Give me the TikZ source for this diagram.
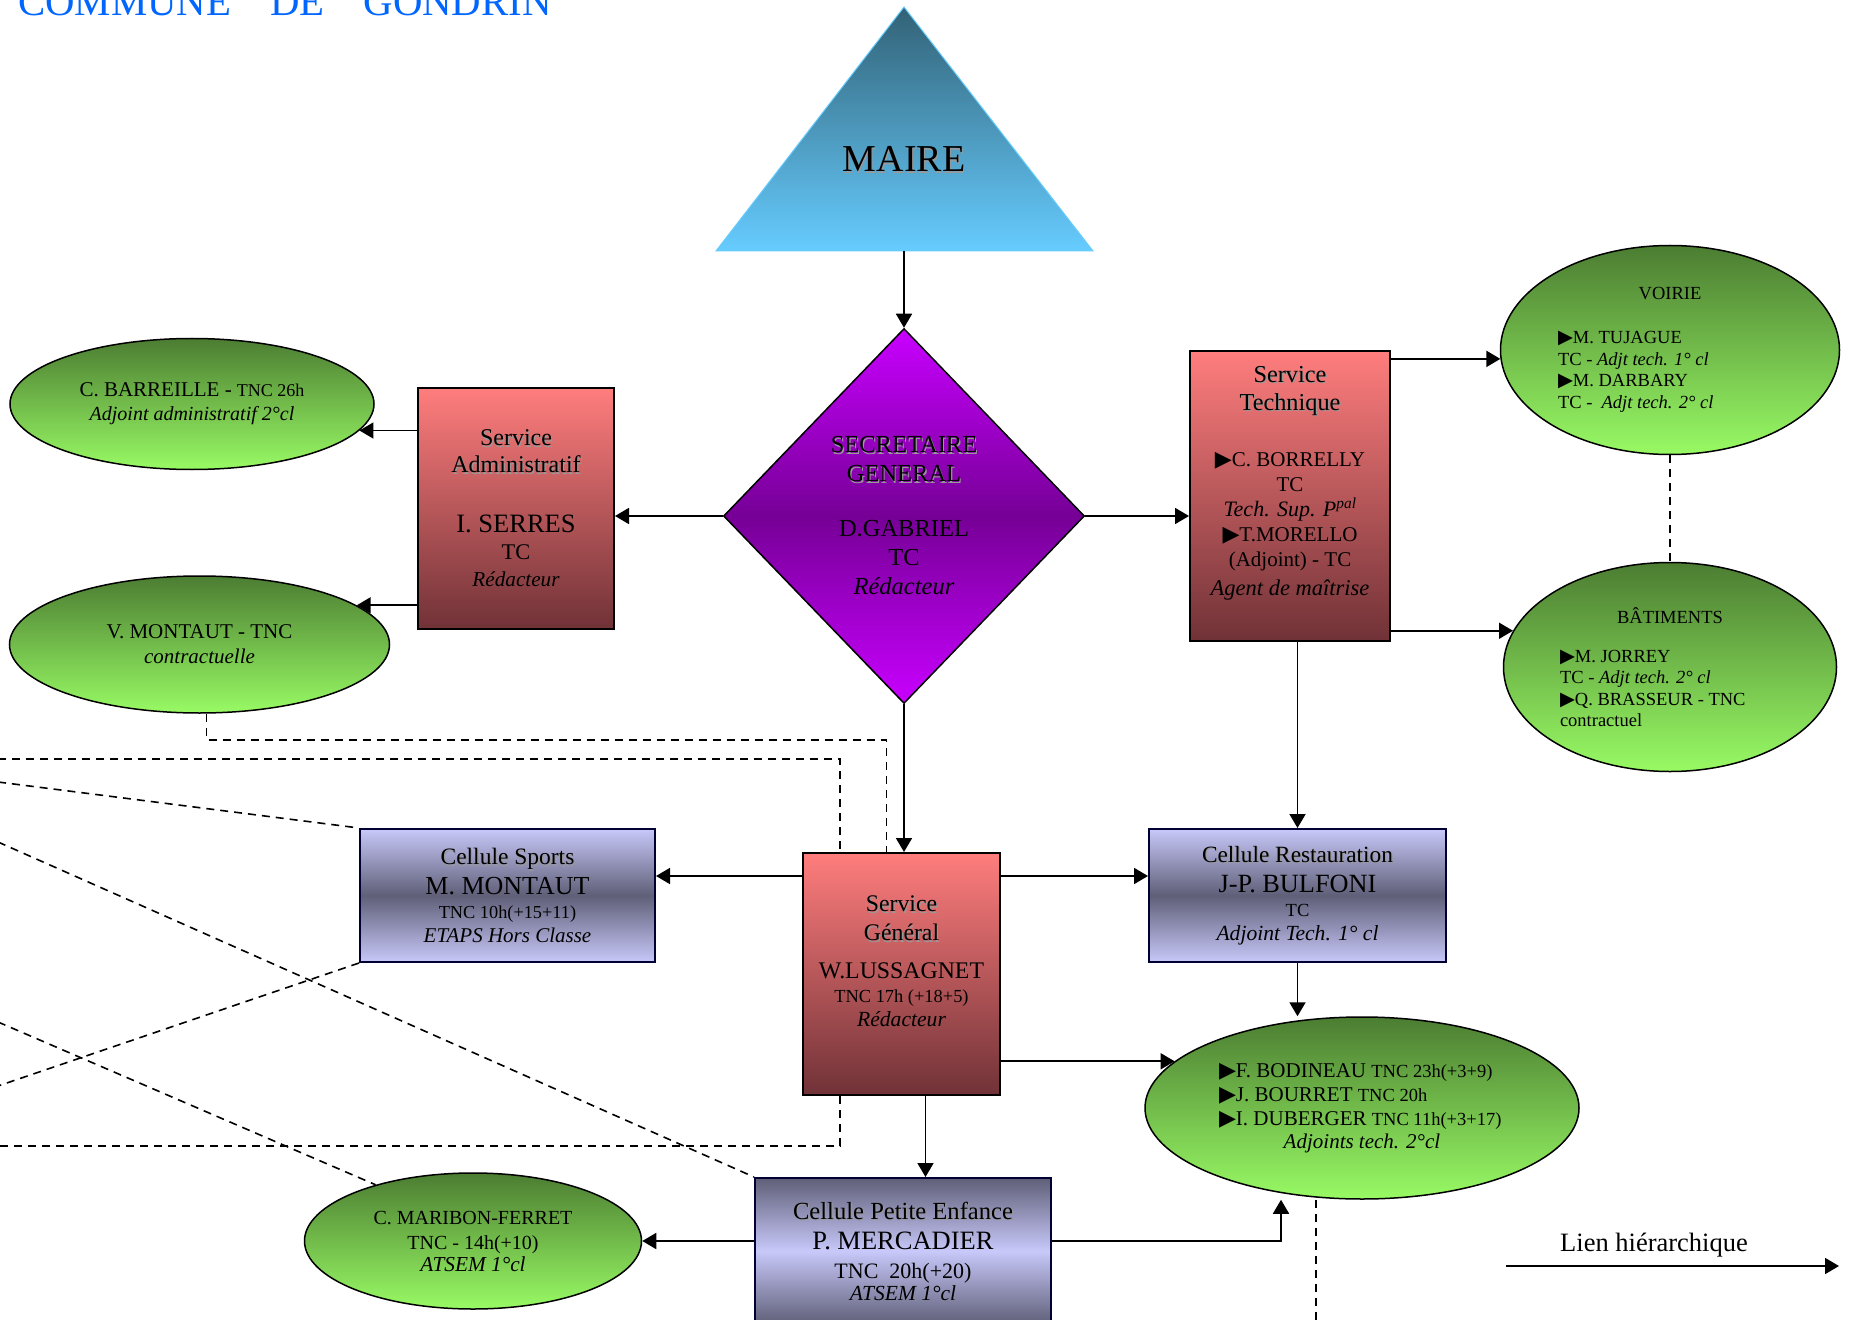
\documentclass[tikz,border=0pt]{standalone}
\usepackage{fontspec}
\usepackage{graphicx}
\setmainfont{Liberation Serif}
\newfontfamily\symfont{DejaVu Sans}
\usetikzlibrary{arrows.meta,shapes.geometric,positioning}

\definecolor{titleblue}{RGB}{0,102,255}
\definecolor{mairetop}{RGB}{50,98,118}
\definecolor{mairebot}{RGB}{102,204,255}
\definecolor{dialt}{RGB}{200,0,255}
\definecolor{diadk}{RGB}{118,0,150}
\definecolor{srvtop}{RGB}{255,125,125}
\definecolor{srvbot}{RGB}{112,50,55}
\definecolor{celllt}{RGB}{200,200,250}
\definecolor{celldk}{RGB}{95,95,120}
\definecolor{agttop}{RGB}{76,125,50}
\definecolor{agtbot}{RGB}{152,250,100}

\newcommand{\fsz}[1]{\fontsize{#1bp}{#1bp}\selectfont}
\newcommand{\tri}{{\symfont\scalebox{1.05}{▶}}}
\newcommand{\shd}[1]{\makebox[0pt][l]{\kern1.2bp\raisebox{-1.2bp}{\textcolor{black!40}{#1}}}#1}

\tikzstyle{org-srv}=[draw=black, line width=2bp, top color=srvtop, bottom color=srvbot, align=center, inner sep=0pt]
\tikzstyle{org-cel}=[draw=black!80!blue, line width=2bp, top color=celllt, bottom color=celllt, middle color=celldk, align=center, inner sep=0pt, minimum width=296bp, minimum height=133bp, font=\fontsize{18.5bp}{23.5bp}\selectfont]
\tikzstyle{org-agt}=[ellipse, draw=black, line width=1.5bp, top color=agttop, bottom color=agtbot, align=center, inner sep=0pt]
\tikzstyle{org-link}=[-{Triangle[length=14bp,width=16bp]}, line width=1.8bp]
\tikzstyle{org-dash}=[line width=1.6bp, dash pattern=on 8bp off 6bp]

\begin{document}
\begin{tikzpicture}[x=1bp,y=-1bp]
  \useasboundingbox (0,0) rectangle (1854,1320);
  \node[anchor=base west, inner sep=0pt, text=titleblue, font=\fsz{40.8}] (title) at (18,16) {COMMUNE\hspace{39bp}DE\hspace{39bp}GONDRIN};

  \shadedraw[top color=mairetop, bottom color=mairebot, draw=mairebot, line width=1bp] (904,7) -- (1093,251) -- (716,251) -- cycle;
  \node[anchor=base, font=\fsz{38}] (maire) at (904,172) {\shd{MAIRE}};
  \coordinate (mairebase) at (904,251);

  \node[diamond, draw=black, line width=1.5bp, top color=dialt, bottom color=dialt, middle color=diadk, minimum width=361bp, minimum height=375bp, inner sep=0pt, align=center, font=\fontsize{24.5bp}{29bp}\selectfont] (secgen) at (904,516)
    {\shd{SECRETAIRE}\\\shd{GENERAL}\\[26bp]D.GABRIEL\\TC\\\textit{Rédacteur}};

  \node[org-srv, minimum width=196bp, minimum height=241bp, font=\fontsize{24bp}{27bp}\selectfont] (sadm) at (516,508.5)
    {\shd{Service}\\\shd{Administratif}\\[33bp]{\fsz{26.5}I. SERRES}\\{\fsz{22.4}TC}\\{\itshape\fsz{21.2}Rédacteur}};
  \node[org-srv, minimum width=200bp, minimum height=290bp, font=\fontsize{21bp}{25bp}\selectfont] (stech) at (1290,496)
    {{\fsz{24.3}\shd{Service}}\\[3bp]{\fsz{24.3}\shd{Technique}}\\[31bp]\tri C. BORRELLY\\TC\\{\itshape\fsz{22}Tech. Sup. P\textsuperscript{pal}}\\\tri T.MORELLO\\(Adjoint) - TC\\[4bp]{\itshape\fsz{22.5}Agent de maîtrise}\\[6bp]\mbox{}};
  \node[org-srv, minimum width=197bp, minimum height=242bp, font=\fontsize{21bp}{24bp}\selectfont] (sgen) at (901.5,974)
    {{\fsz{23.8}\shd{Service}}\\[5bp]{\fsz{23.8}\shd{Général}}\\[14bp]{\fsz{23.8}W.LUSSAGNET}\\{\fsz{18.4}TNC 17h (+18+5)}\\{\itshape\fsz{21.6}Rédacteur}\\[1bp]\mbox{}};

  \node[org-cel, minimum width=295bp] (csport) at (507.5,895.5)
    {{\fsz{23.5}\shd{Cellule Sports}}\\[6.5bp]{\fsz{26}M. MONTAUT}\\{\fsz{18.3}TNC 10h(+15+11)}\\[0.5bp]{\itshape\fsz{21}ETAPS Hors Classe}};
  \node[org-cel, minimum width=297bp] (crest) [right of=csport, node distance=790bp]
    {{\fsz{23.3}\shd{Cellule Restauration}}\\[6.5bp]{\fsz{26.3}J-P. BULFONI}\\TC\\[0.5bp]{\itshape\fsz{21.6}Adjoint Tech. 1° cl}};
  \node[org-cel, top color=celldk, bottom color=celldk, middle color=celllt, minimum height=146bp, font=\fontsize{22bp}{29bp}\selectfont] (cpe) at (903,1251)
    {{\fsz{24.6}\shd{Cellule Petite Enfance}}\\[1bp]{\fsz{26.5}P. MERCADIER}\\TNC\ \ 20h(+20)\\[-7bp]{\itshape\fsz{21.5}ATSEM 1°cl}};

  \node[org-agt, minimum width=364bp, minimum height=131bp, font=\fontsize{21bp}{24bp}\selectfont] (ebar) at (192,404)
    {C. BARREILLE - {\fsz{18}TNC 26h}\\{\itshape\fsz{20}Adjoint administratif 2°cl}};
  \node[org-agt, minimum width=380bp, minimum height=137bp, font=\fontsize{21bp}{25bp}\selectfont] (emon) at (199.5,644.5)
    {V. MONTAUT - TNC\\{\itshape contractuelle}};
  \node[org-agt, align=left, minimum width=339bp, minimum height=209bp, font=\fontsize{18.5bp}{21.5bp}\selectfont] (evoi) at (1670,350)
    {\makebox[224bp]{VOIRIE}\\[22.5bp]\tri M. TUJAGUE\\TC - \textit{Adjt tech. 1° cl}\\\tri M. DARBARY\\TC - \ \textit{Adjt tech. 2° cl}};
  \node[org-agt, align=left, minimum width=333bp, minimum height=209bp, font=\fontsize{18.5bp}{21.5bp}\selectfont] (ebat) [below of=evoi, node distance=317bp]
    {\makebox[220bp]{BÂTIMENTS}\\[17.5bp]\tri M. JORREY\\TC - \textit{Adjt tech. 2° cl}\\\tri Q. BRASSEUR - TNC\\contractuel};
  \node[org-agt, align=left, minimum width=434bp, minimum height=182bp, font=\fontsize{21bp}{24bp}\selectfont] (ework) at (1362,1108)
    {\tri F. BODINEAU {\fsz{18.5}TNC 23h(+3+9)}\\\tri J. BOURRET {\fsz{18.5}TNC 20h}\\\tri I. DUBERGER {\fsz{18.5}TNC 11h(+3+17)}\\[-1bp]\makebox[286bp]{\itshape Adjoints tech. 2°cl}};
  \node[org-agt, minimum width=337bp, minimum height=136bp, font=\fontsize{20bp}{23.5bp}\selectfont] (emar) at (473,1241)
    {C. MARIBON-FERRET\\[1.5bp]TNC - 14h(+10)\\[-1.5bp]{\itshape\fsz{21.3}ATSEM 1°cl}};

  \node[anchor=base, font=\fsz{26.5}] (legtxt) at (1654,1251) {Lien hiérarchique};
  \coordinate (lega) at (1506,1266);
  \coordinate (legb) at (1839,1266);

  \coordinate (lw1) at (-2,759);
  \coordinate (lw2) at (-2,782);
  \coordinate (lw3) at (-2,842);
  \coordinate (lw4) at (-2,1146);
  \coordinate (lw5) at (-2,1086);
  \coordinate (lw6) at (-2,1022);
  \coordinate (sgl) at ([yshift=-24bp]sgen.north west);
  \coordinate (sgr) at ([yshift=-24bp]sgen.north east);

  \draw[org-link] (mairebase) to (secgen.north);
  \draw[org-link] (secgen.west) to (secgen.west -| sadm.east);
  \draw[org-link] (secgen.east) to (secgen.east -| stech.west);
  \draw[org-link] (secgen.south) to (secgen.south |- sgen.north);
  \draw[org-link] (sadm.west |- ebar.-9) to (ebar.-9);
  \draw[org-link] (sadm.west |- emon.14) to (emon.14);
  \draw[org-link] (stech.east |- evoi.183) to (evoi.183);
  \draw[org-link] (stech.east |- ebat.167) to (ebat.167);
  \draw[org-link] (crest.north |- stech.south) to (crest.north);
  \draw[org-link] (sgl) to (sgl -| csport.east);
  \draw[org-link] (sgr) to (sgr -| crest.west);
  \draw[org-link] (sgen.east |- ework.166) to (ework.166);
  \draw[org-link] (crest.south) to (crest.south |- ework.north);
  \draw[org-link] ([xshift=24bp]sgen.south) to ([xshift=24bp]sgen.south |- cpe.north);
  \draw[org-link] (cpe.west |- emar.east) to (emar.east);
  \draw[org-link] (cpe.east |- emar.east) -| ([xshift=-81bp]ework.south);
  \draw[org-link] (lega) to (legb);

  \draw[org-dash] ([xshift=7bp]emon.south) -- ++(0,26) -| ([xshift=-15bp]sgen.north);
  \draw[org-dash] (lw1) -| ([xshift=38bp]sgen.north west);
  \draw[org-dash] ([xshift=38bp]sgen.south west) |- (lw4);
  \draw[org-dash] (lw2) -- (csport.north west);
  \draw[org-dash] (csport.south west) -- (lw5);
  \draw[org-dash] (lw3) -- (cpe.north west);
  \draw[org-dash] (lw6) -- (emar.150);
  \draw[org-dash] (evoi.south) -- (evoi.south |- ebat.north);
  \draw[org-dash] ([xshift=-46bp]ework.south) -- ++(0,125);
\end{tikzpicture}
\end{document}
